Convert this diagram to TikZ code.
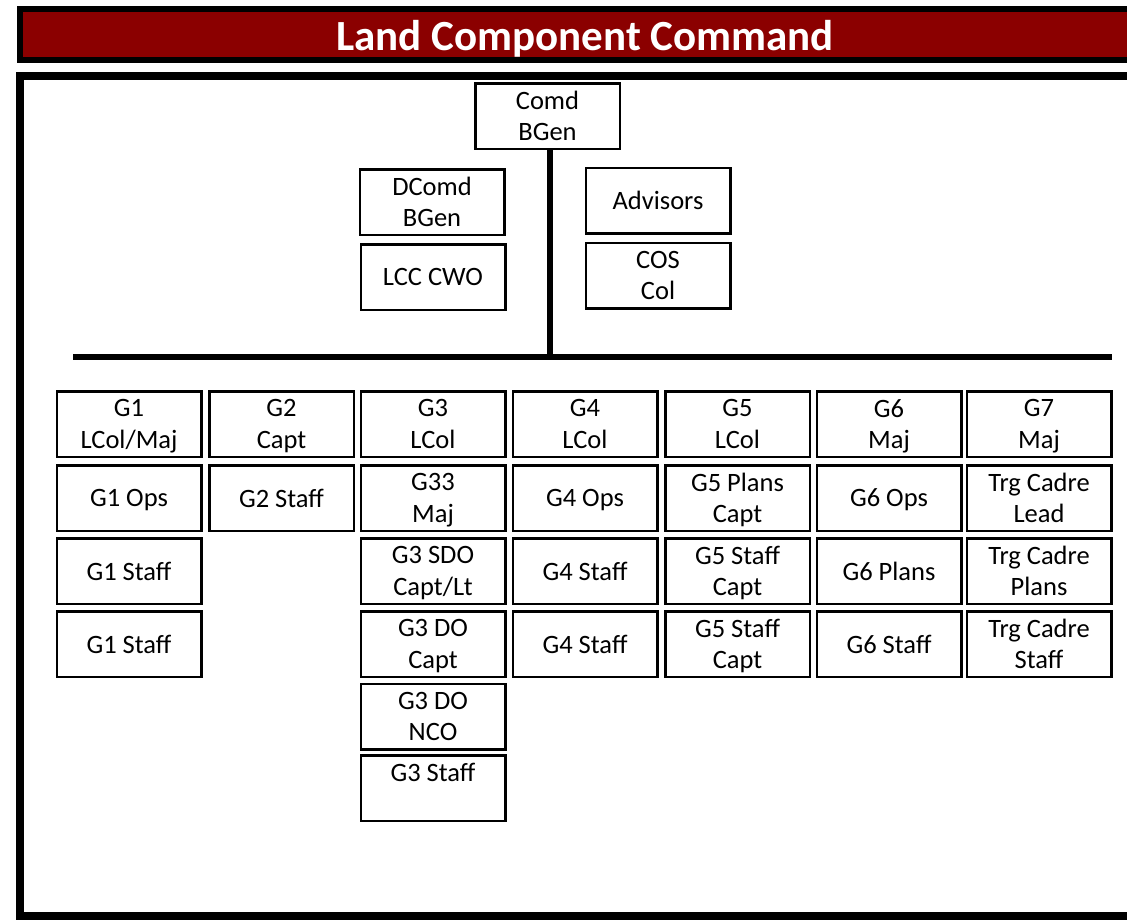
\documentclass[tikz,border=0pt]{standalone}
\usepackage{fontspec}
\setmainfont{Carlito}
\definecolor{titlered}{RGB}{139,0,0}
\begin{document}
\begin{tikzpicture}[x=1pt,y=-1pt,
  bx/.style={draw=black,line width=2.5pt,fill=white,minimum width=144.5pt,minimum height=65.5pt,
    inner sep=0pt,align=center,text depth=-4pt,font=\fontsize{26.5}{31.5}\selectfont},
  conn/.style={draw=black,line width=6pt}]
\useasboundingbox[fill=white] (0,0) rectangle (1127,919);
% title bar
\path[draw=black,line width=6pt,fill=titlered] (20,9) rectangle (1140,60);
\node[text=white,font=\fontsize{43}{50}\bfseries\selectfont,inner sep=0pt,text depth=0pt] (title) at (585,35) {Land Component Command};
% main frame
\path[draw=black,line width=7.5pt] (20,76) rectangle (1140,916);
% top boxes
\node[bx] (comd) at (547.5,116) {Comd\\BGen};
\node[bx] (dcomd) at (432,202) {DComd\\BGen};
\node[bx] (cwo) at (433,277) {LCC CWO};
\node[bx] (adv) at (658,200.5) {Advisors};
\node[bx] (cos) at (658,275.5) {COS\\Col};
% connectors
\coordinate (junc) at (549.5,356.5);
\coordinate (hl) at (73,356.5);
\coordinate (hr) at (1112,356.5);
\draw[conn] (comd.south -| junc) -- (junc);
\draw[conn] (hl) -- (hr);
% G1
\node[bx] (g1a) at (129,424) {G1\\LCol/Maj};
\node[bx] (g1b) at (129,498) {G1 Ops};
\node[bx] (g1c) at (129,571) {G1 Staff};
\node[bx] (g1d) at (129,644) {G1 Staff};
% G2
\node[bx] (g2a) at (281.5,424) {G2\\Capt};
\node[bx] (g2b) at (281.5,498) {G2 Staff};
% G3
\node[bx] (g3a) at (433,424) {G3\\LCol};
\node[bx] (g3b) at (433,498) {G33\\Maj};
\node[bx] (g3c) at (433,571) {G3 SDO\\Capt/Lt};
\node[bx] (g3d) at (433,644) {G3 DO\\Capt};
\node[bx] (g3e) at (433,716.5) {G3 DO\\NCO};
\node[bx] (g3f) at (433,788) {G3 Staff\\\strut};
% G4
\node[bx] (g4a) at (585,424) {G4\\LCol};
\node[bx] (g4b) at (585,498) {G4 Ops};
\node[bx] (g4c) at (585,571) {G4 Staff};
\node[bx] (g4d) at (585,644) {G4 Staff};
% G5
\node[bx] (g5a) at (737.5,424) {G5\\LCol};
\node[bx] (g5b) at (737.5,498) {G5 Plans\\Capt};
\node[bx] (g5c) at (737.5,571) {G5 Staff\\Capt};
\node[bx] (g5d) at (737.5,644) {G5 Staff\\Capt};
% G6
\node[bx] (g6a) at (889,424) {G6\\Maj};
\node[bx] (g6b) at (889,498) {G6 Ops};
\node[bx] (g6c) at (889,571) {G6 Plans};
\node[bx] (g6d) at (889,644) {G6 Staff};
% G7
\node[bx] (g7a) at (1039,424) {G7\\Maj};
\node[bx] (g7b) at (1039,498) {Trg Cadre\\Lead};
\node[bx] (g7c) at (1039,571) {Trg Cadre\\Plans};
\node[bx] (g7d) at (1039,644) {Trg Cadre\\Staff};
\end{tikzpicture}
\end{document}
